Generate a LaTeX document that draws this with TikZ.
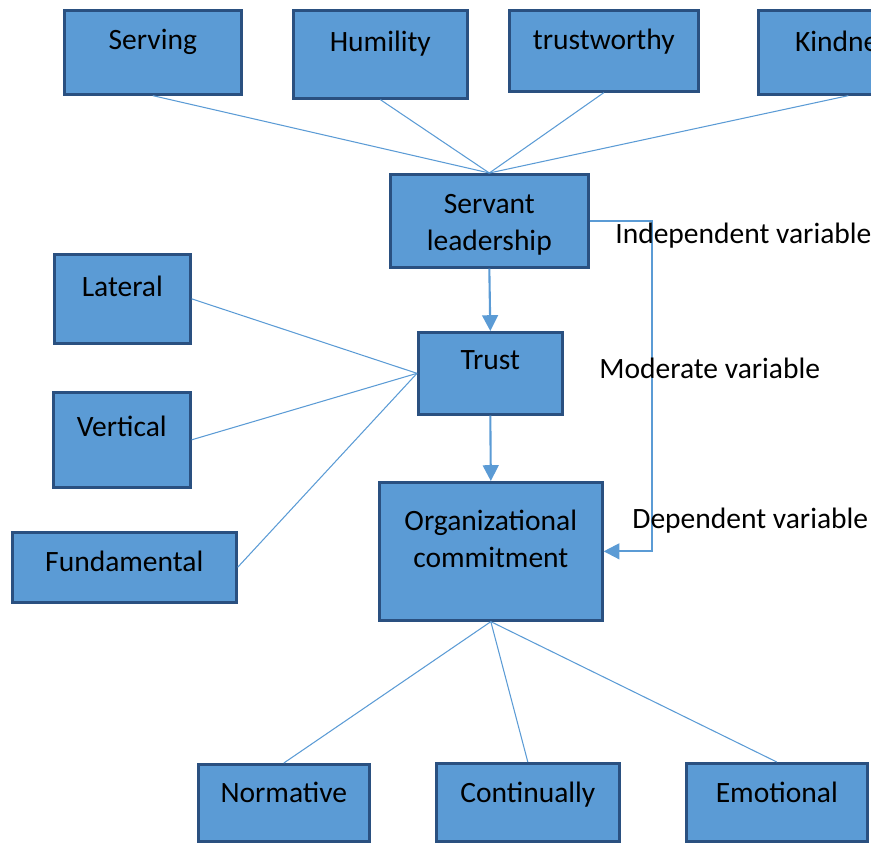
\documentclass[tikz,border=0pt]{standalone}
\usepackage{fontspec}
\setmainfont{Carlito}
\usepackage{tikz}
\usetikzlibrary{arrows.meta,positioning,calc}
\definecolor{boxfill}{HTML}{5B9BD5}
\definecolor{boxline}{HTML}{2A5080}
\definecolor{linkblue}{HTML}{5B9BD5}
\newcommand{\boxfont}{\fontsize{16.8}{21}\selectfont}
\tikzset{
  box/.style={draw=boxline, fill=boxfill, line width=1.5pt, anchor=north west, align=center, inner xsep=0pt, inner ysep=0pt, font=\boxfont},
  link/.style={draw=linkblue, line width=0.6pt},
  arrowline/.style={draw=linkblue, line width=1.2pt, -{Triangle[length=9pt,width=9pt]}},
  note/.style={anchor=base west, inner sep=0pt, font=\boxfont}
}
\begin{document}
\begin{tikzpicture}[x=0.02cm,y=-0.02cm]
\useasboundingbox (0,0) rectangle (871,843);
\clip (0,0) rectangle (871,843);
\node[box] (serving)[minimum width=177*0.02cm, text height=39*0.02cm, text depth=45*0.02cm] at (63,9) {Serving};
\node[box] (humility)[minimum width=174*0.02cm, text height=41*0.02cm, text depth=47*0.02cm] at (292,9) {Humility};
\node[box] (trustworthy)[minimum width=189*0.02cm, text height=39*0.02cm, text depth=42*0.02cm] at (508,9) {trustworthy};
\node[box] (kindness)[minimum width=180*0.02cm, text height=41*0.02cm, text depth=43*0.02cm] at (757,9) {Kindness};
\node[box] (servant)[minimum width=198*0.02cm, text height=76*0.02cm, text depth=17*0.02cm] at (389,173) {Servant\\leadership};
\node[box] (lateral)[minimum width=136*0.02cm, text height=42*0.02cm, text depth=47*0.02cm] at (53,253) {Lateral};
\node[box] (trust)[minimum width=144*0.02cm, text height=37*0.02cm, text depth=45*0.02cm] at (417,331) {Trust};
\node[box] (vertical)[minimum width=137*0.02cm, text height=44*0.02cm, text depth=51*0.02cm] at (52,391) {Vertical};
\node[box] (org)[minimum width=223*0.02cm, text height=85*0.02cm, text depth=53*0.02cm] at (378,481) {Organizational\\commitment};
\node[box] (fundamental)[minimum width=224*0.02cm, text height=39*0.02cm, text depth=31*0.02cm] at (11,531) {Fundamental};
\node[box] (normative)[minimum width=171*0.02cm, text height=38*0.02cm, text depth=39*0.02cm] at (197,763) {Normative};
\node[box] (continually)[minimum width=183*0.02cm, text height=39*0.02cm, text depth=39*0.02cm] at (435,762) {Continually};
\node[box] (emotional)[minimum width=181*0.02cm, text height=39*0.02cm, text depth=39*0.02cm] at (685,762) {Emotional};
\draw[link] (serving.south)--(servant.north);
\draw[link] (humility.south)--(servant.north);
\draw[link] (trustworthy.south)--(servant.north);
\draw[link] (kindness.south)--(servant.north);
\draw[link] (lateral.east)--(trust.west);
\draw[link] (vertical.east)--(trust.west);
\draw[link] (fundamental.east)--(trust.west);
\draw[link] (org.south)--(normative.north);
\draw[link] (org.south)--(continually.north);
\draw[link] (org.south)--(emotional.north);
\draw[arrowline] (servant.south)--(trust.north);
\draw[arrowline] (trust.south)--(org.north);
\draw[arrowline] (servant.east)--++(62,0)|-(org.east);
\node[note] (indep) at (615,243) {Independent variable};
\node[note] (moder) at (599,378) {Moderate variable};
\node[note] (dep) at (632,528) {Dependent variable};
\end{tikzpicture}
\end{document}
